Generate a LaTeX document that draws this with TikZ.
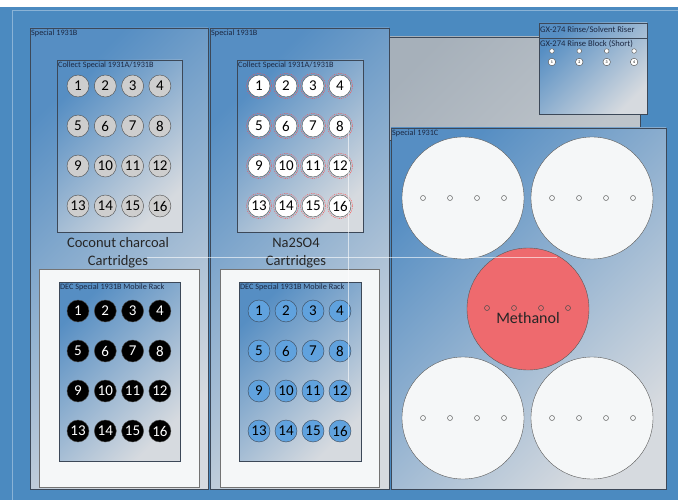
\documentclass[tikz,border=0pt]{standalone}
\usepackage{fontspec}
\setmainfont{Carlito}

\definecolor{bgblue}{RGB}{75,138,192}
\definecolor{panelblue}{RGB}{86,142,195}
\definecolor{panelgray}{RGB}{214,218,223}
\definecolor{edgegray}{RGB}{60,72,88}
\definecolor{boxwhite}{RGB}{245,247,248}
\definecolor{greyarea}{RGB}{166,176,186}
\definecolor{greyarea2}{RGB}{190,196,202}
\definecolor{slotgray}{RGB}{206,206,206}
\definecolor{slotblue}{RGB}{96,162,222}
\definecolor{methanol}{RGB}{238,106,110}
\definecolor{labelnavy}{RGB}{28,40,66}

\tikzset{
  panel/.style={draw=edgegray, line width=0.8pt, top color=panelblue, bottom color=panelgray, shading angle=45},
  tag/.style={anchor=north west, inner sep=1pt, text=labelnavy, font=\fontsize{8.2}{8.2}\selectfont},
  gxtag/.style={tag, font=\fontsize{8.6}{8.6}\selectfont},
  slot/.style={circle, draw=black!70, minimum size=22pt, inner sep=0pt, font=\fontsize{15}{15}\selectfont},
  grayslot/.style={slot, fill=slotgray},
  whiteslot/.style={slot, fill=white},
  blackslot/.style={slot, fill=black, text=white},
  blueslot/.style={slot, fill=slotblue, draw=edgegray},
  jar/.style={circle, draw=black!65, fill=boxwhite, minimum size=122pt, inner sep=0pt},
  hole/.style={draw=black!60, line width=0.5pt},
  caption/.style={align=center, font=\fontsize{14.5}{18}\selectfont, text=black!85}
}

\begin{document}
\begin{tikzpicture}[x=1pt,y=-1pt]
  \useasboundingbox (0,0) rectangle (678,500);

  % BACKGROUND
  \fill[bgblue] (0,7) rectangle (678,500);
  \draw[white!35!bgblue] (12,500) -- (12,10) -- (678,10);
  \shade[top color=greyarea, bottom color=greyarea2, shading angle=45, draw=edgegray] (389,37) rectangle (640,140);

  % PANELS
  \shade[panel] (30,28) rectangle (208,489);
  \shade[panel] (210,28) rectangle (389,489);
  \node[tag] (sp1) at (30,29) {Special 1931B};
  \node[tag] (sp2) at (210,29) {Special 1931B};

  \shade[panel] (57,60) rectangle (182,232);
  \shade[panel] (237,60) rectangle (363,232);
  \node[tag] (col1) at (57,61) {Collect Special 1931A/1931B};
  \node[tag] (col2) at (237,61) {Collect Special 1931A/1931B};

  \filldraw[fill=boxwhite, draw=black!55] (39,269) rectangle (199,487);
  \filldraw[fill=boxwhite, draw=black!55] (220,269) rectangle (379,487);
  \shade[panel] (59,282) rectangle (180,461);
  \shade[panel] (239,282) rectangle (361,461);
  \node[tag] (dec1) at (59,283) {DEC Special 1931B Mobile Rack};
  \node[tag] (dec2) at (239,283) {DEC Special 1931B Mobile Rack};

  \node[caption] (coco) at (118,253) {Coconut charcoal\\Cartridges};
  \node[caption] (naso) at (296,253) {Na2SO4\\Cartridges};

  % SLOTS
  \foreach \r in {0,...,3}
    \foreach \c in {1,...,4} {
      \pgfmathtruncatemacro\n{4*\r+\c}
      \node[grayslot]  (cc\n)  at (78+27.3*\c-27.3, 86+40*\r) {\n};
      \node[whiteslot] (na\n)  at (259+27*\c-27, 86+40*\r) {\n};
      \draw[red!70, dash pattern=on 1.2pt off 1pt, line width=0.4pt] (na\n) circle (12.6);
      \node[blackslot] (dc\n)  at (78+27.3*\c-27.3, 311+40*\r) {\n};
      \node[blueslot]  (dn\n)  at (259+27*\c-27, 311+40*\r) {\n};
    }

  % RINSE BLOCK
  \shade[panel] (539,23) rectangle (647,114);
  \draw[edgegray, line width=0.8pt] (539,38) -- (647,38);
  \node[gxtag] (gx1) at (539,25) {GX-274 Rinse/Solvent Riser};
  \node[gxtag] (gx2) at (539,39) {GX-274 Rinse Block (Short)};
  \foreach \i in {1,...,4} {
    \draw[hole, fill=white] (524.5+27.4*\i,51) circle (2.3);
    \node[circle, draw=black!70, fill=white, inner sep=0pt, minimum size=7.5pt, font=\fontsize{4}{4}\selectfont] (rb\i) at (524.5+27.4*\i,62) {\i};
  }

  % SPECIAL 1931C
  \shade[panel] (391,128) rectangle (666,489);
  \node[tag] (sp3) at (391,129) {Special 1931C};
  \node[jar] (jar1) at (463,198) {};
  \node[jar] (jar2) at (592,198) {};
  \node[jar] (jar3) at (463,418) {};
  \node[jar] (jar4) at (592,418) {};
  \node[jar, fill=methanol] (jar5) at (528,309) {};
  \foreach \j in {1,...,4}
    \foreach \d in {-40,-13,14,41}
      \draw[hole] ([xshift=\d pt]jar\j.center) circle (2.5);
  \foreach \d in {-41,-14,13,40}
    \draw[hole, draw=black!70] ([xshift=\d pt, yshift=1pt]jar5.center) circle (2.5);
  \node[font=\fontsize{16}{16}\selectfont, text=black!85] (meoh) at (528,318) {Methanol};

  % NOTES
  \draw[white, opacity=0.6, line width=0.5pt] (147,257) -- (557,257);
  \draw[white, opacity=0.6, line width=0.5pt] (348,127) -- (348,382);
\end{tikzpicture}
\end{document}
